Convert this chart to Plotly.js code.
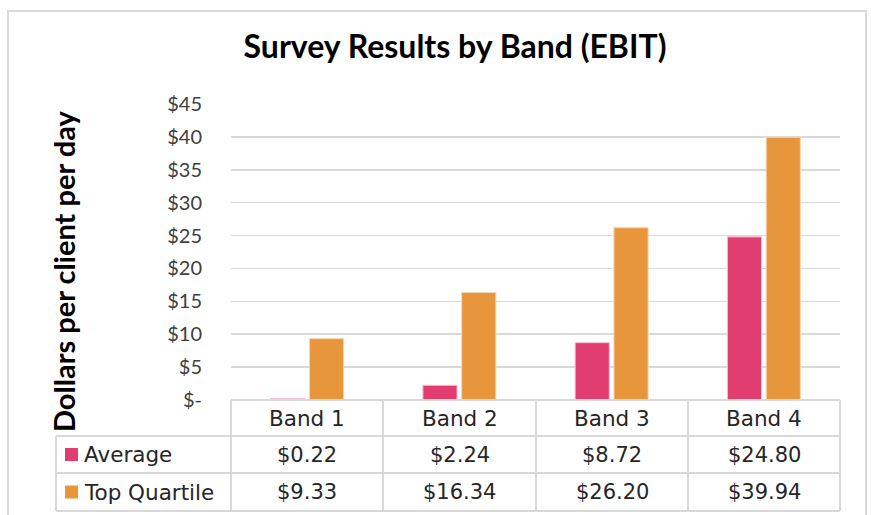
<!DOCTYPE html>
<html>
<head>
<meta charset="utf-8">
<script src="https://cdn.plot.ly/plotly-3.0.1.min.js"></script>
<style>html,body{margin:0;padding:0;background:#fff;}#chart{width:871px;height:515px;}</style>
</head>
<body>
<div id="chart"></div>
<script>
const categories = ["Band 1", "Band 2", "Band 3", "Band 4"];
const averageValues = [0.22, 2.24, 8.72, 24.80];
const topQuartileValues = [9.33, 16.34, 26.20, 39.94];
const seriesNames = ["Average", "Top Quartile"];
const tickValues = [0, 5, 10, 15, 20, 25, 30, 35, 40, 45];
const tickLabels = ["$-", "$5", "$10", "$15", "$20", "$25", "$30", "$35", "$40", "$45"];

const W = 871, H = 515;
const L = 231, R = 840, T = 104, B = 400;
const FONT = "Lato, 'Open Sans', sans-serif";
const TFONT = "'DejaVu Sans', sans-serif";
const PINK = "#E23D70", ORANGE = "#E8963C", GRID = "#d9d9d9", TXT = "#262626";

function px(x){ return (x - L) / (R - L); }
function py(y){ return (B - y) / (B - T); }
function fmt(v){ return "$" + v.toFixed(2); }

const traces = [
  {type:"bar", name:seriesNames[0], x:categories, y:averageValues,
   marker:{color:PINK, line:{color:"#f6c3d2", width:1}}, hoverinfo:"skip"},
  {type:"bar", name:seriesNames[1], x:categories, y:topQuartileValues,
   marker:{color:ORANGE, line:{color:"#f7d6b0", width:1}}, hoverinfo:"skip"}
];

const shapes = [];
const annotations = [];
function hline(x0, x1, y){ shapes.push({type:"line", xref:"paper", yref:"paper", x0:px(x0), x1:px(x1), y0:py(y), y1:py(y), line:{color:GRID, width:2}}); }
function vline(x, y0, y1){ shapes.push({type:"line", xref:"paper", yref:"paper", x0:px(x), x1:px(x), y0:py(y0), y1:py(y1), line:{color:GRID, width:2}}); }

// outer chart border
shapes.push({type:"rect", xref:"paper", yref:"paper", x0:px(8), x1:px(866), y0:py(11), y1:py(530), line:{color:GRID, width:2}, fillcolor:"rgba(0,0,0,0)"});

// data table grid
const colEdges = [231, 383, 536, 688, 840];
const rowEdges = [400, 436, 473, 511];
hline(231, 840, rowEdges[0]);
hline(56, 840, rowEdges[1]);
hline(56, 840, rowEdges[2]);
hline(56, 840, rowEdges[3]);
vline(56, rowEdges[1], rowEdges[3]);
colEdges.forEach(x => vline(x, rowEdges[0], rowEdges[3]));

// header row
categories.forEach((c, i) => {
  annotations.push({xref:"paper", yref:"paper", x:px((colEdges[i]+colEdges[i+1])/2), y:py(418), text:c, showarrow:false,
    xanchor:"center", yanchor:"middle", font:{family:TFONT, size:21.5, color:TXT}});
});
// series rows
const rows = [averageValues, topQuartileValues];
const colors = [PINK, ORANGE];
rows.forEach((vals, r) => {
  const yc = (rowEdges[r+1] + rowEdges[r+2]) / 2;
  shapes.push({type:"rect", xref:"paper", yref:"paper", x0:px(65), x1:px(78), y0:py(yc-6.5), y1:py(yc+6.5), fillcolor:colors[r], line:{width:0}});
  annotations.push({xref:"paper", yref:"paper", x:px(82), y:py(yc), text:seriesNames[r], showarrow:false,
    xanchor:"left", yanchor:"middle", font:{family:TFONT, size:21.5, color:TXT}});
  vals.forEach((v, i) => {
    annotations.push({xref:"paper", yref:"paper", x:px((colEdges[i]+colEdges[i+1])/2), y:py(yc), text:fmt(v), showarrow:false,
      xanchor:"center", yanchor:"middle", font:{family:TFONT, size:21, color:TXT}});
  });
});

// y axis title
annotations.push({xref:"paper", yref:"paper", x:px(63), y:py(272), text:"<b>Dollars per client per day</b>", textangle:-90,
  showarrow:false, xanchor:"center", yanchor:"middle", font:{family:FONT, size:29, color:"#000"}});

const layout = {
  width:W, height:H,
  margin:{l:L, r:W-R, t:T, b:H-B, pad:0},
  paper_bgcolor:"#fff", plot_bgcolor:"#fff",
  title:{text:"<b>Survey Results by Band (EBIT)</b>", x:455/W, xanchor:"center", y:1-47/H, yanchor:"middle",
    font:{family:FONT, size:32, color:"#000"}},
  showlegend:false,
  barmode:"group", bargap:0.49, bargroupgap:0.12,
  xaxis:{showticklabels:false, showgrid:false, zeroline:false, showline:false, ticks:"", fixedrange:true},
  yaxis:{range:[0,45], tickvals:tickValues, ticktext:tickLabels, showgrid:true, gridcolor:GRID, gridwidth:1.5,
    zeroline:false, showline:false, ticks:"", ticklabelstandoff:28,
    tickfont:{family:FONT, size:20, color:"#404040"}, fixedrange:true},
  shapes:shapes, annotations:annotations
};

Plotly.newPlot("chart", traces, layout, {displayModeBar:false, staticPlot:true});
</script>
</body>
</html>
